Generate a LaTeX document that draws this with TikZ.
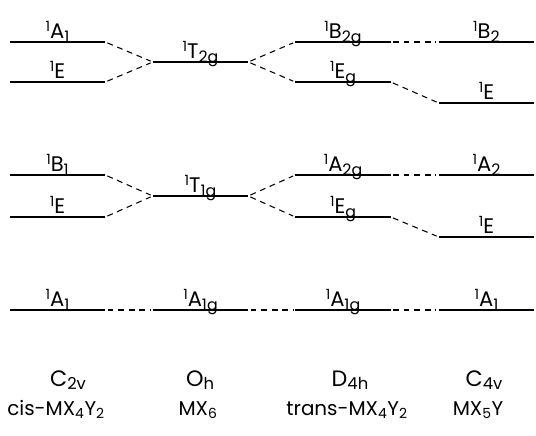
\documentclass[tikz,border=0pt]{standalone}
\usepackage{fontspec}
\setmainfont{Poppins}
\usetikzlibrary{positioning}
\newcommand{\term}[2]{\raisebox{0.55ex}{\fontsize{12}{13}\selectfont 1}#1\raisebox{-0.4ex}{\fontsize{13.5}{14}\selectfont #2}}

\begin{document}
\begin{tikzpicture}[
    x=0.03cm, y=0.03cm,
    level/.style={minimum width=2.85cm, inner xsep=0pt, inner ysep=3pt, text depth=0pt, anchor=south, font=\fontsize{18}{20}\selectfont},
    levelline/.style={line width=1.5pt},
    corr/.style={line width=0.9pt, dash pattern=on 5pt off 4pt, shorten <=2pt, shorten >=2pt},
    group/.style={anchor=base, font=\fontsize{19}{22}\selectfont},
    mol/.style={anchor=base, font=\fontsize{17}{20}\selectfont}
]
\useasboundingbox (0,0) rectangle (536,435);

% C2v levels
\node[level] (cA1t) at (57.5,393) {\term{A}{1}};
\node[level] (cEt)  at (57.5,353) {\term{E}{}};
\node[level] (cB1)  at (57.5,260) {\term{B}{1}};
\node[level] (cEm)  at (57.5,218) {\term{E}{}};
\node[level] (cA1)  at (57.5,125) {\term{A}{1}};

% Oh levels
\node[level] (oT2) at (200.5,373) {\term{T}{2g}};
\node[level] (oT1) at (200.5,239) {\term{T}{1g}};
\node[level] (oA1) at (200.5,125) {\term{A}{1g}};

% D4h levels
\node[level] (dB2) at (343,393) {\term{B}{2g}};
\node[level] (dEt) at (343,353) {\term{E}{g}};
\node[level] (dA2) at (343,260) {\term{A}{2g}};
\node[level] (dEm) at (343,218) {\term{E}{g}};
\node[level] (dA1) at (343,125) {\term{A}{1g}};

% C4v levels
\node[level] (vB2) at (486.5,393) {\term{B}{2}};
\node[level] (vEt) at (486.5,332) {\term{E}{}};
\node[level] (vA2) at (486.5,260) {\term{A}{2}};
\node[level] (vEm) at (486.5,198) {\term{E}{}};
\node[level] (vA1) at (486.5,125) {\term{A}{1}};

% Level lines
\foreach \n in {cA1t,cEt,cB1,cEm,cA1,oT2,oT1,oA1,dB2,dEt,dA2,dEm,dA1,vB2,vEt,vA2,vEm,vA1}
    \draw[levelline] (\n.south west) -- (\n.south east);

% Correlations
\draw[corr] (cA1t.south east) -- (oT2.south west);
\draw[corr] (cEt.south east) -- (oT2.south west);
\draw[corr] (oT2.south east) -- (dB2.south west);
\draw[corr] (oT2.south east) -- (dEt.south west);
\draw[corr] (dB2.south east) -- (vB2.south west);
\draw[corr] (dEt.south east) -- (vEt.south west);

\draw[corr] (cB1.south east) -- (oT1.south west);
\draw[corr] (cEm.south east) -- (oT1.south west);
\draw[corr] (oT1.south east) -- (dA2.south west);
\draw[corr] (oT1.south east) -- (dEm.south west);
\draw[corr] (dA2.south east) -- (vA2.south west);
\draw[corr] (dEm.south east) -- (vEm.south west);

\draw[corr] (cA1.south east) -- (oA1.south west);
\draw[corr] (oA1.south east) -- (dA1.south west);
\draw[corr] (dA1.south east) -- (vA1.south west);

% Point groups and molecules
\node[group] (gC2v) at (68,49) {C\raisebox{-0.3ex}{\fontsize{14}{14}\selectfont 2v}};
\node[group] (gOh)  at (200,49) {O\raisebox{-0.3ex}{\fontsize{14}{14}\selectfont h}};
\node[group] (gD4h) at (350,49) {D\raisebox{-0.3ex}{\fontsize{14}{14}\selectfont 4h}};
\node[group] (gC4v) at (484,49) {C\raisebox{-0.3ex}{\fontsize{14}{14}\selectfont 4v}};
\node[mol] (mCis)   at (56,20) {cis-MX\textsubscript{4}Y\textsubscript{2}};
\node[mol] (mOct)   at (198,20) {MX\textsubscript{6}};
\node[mol] (mTrans) at (347,20) {trans-MX\textsubscript{4}Y\textsubscript{2}};
\node[mol] (mPyr)   at (478,20) {MX\textsubscript{5}Y};

\end{tikzpicture}
\end{document}
